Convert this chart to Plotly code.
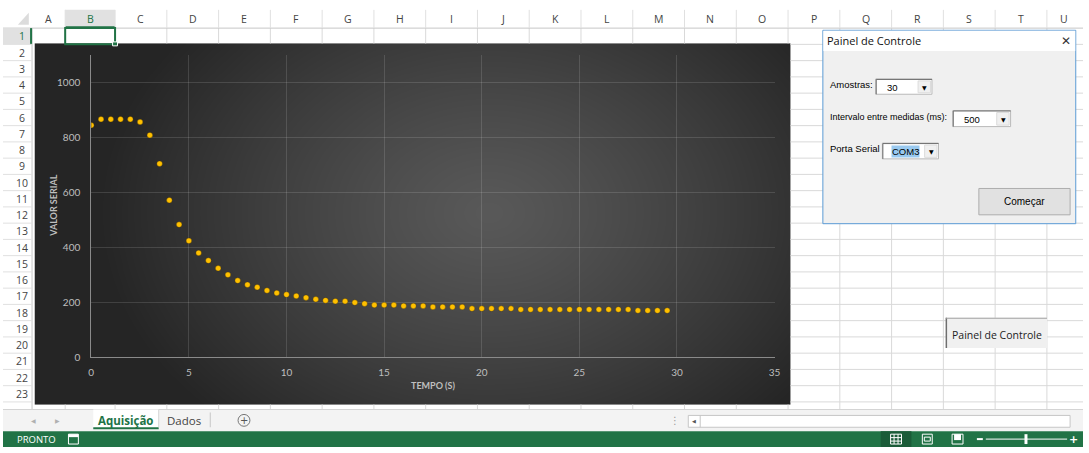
import base64
import struct
import zlib

import numpy as np
import plotly.graph_objects as go

# ---------------------------------------------------------------- data
tempo_s = [0, 0.5, 1, 1.5, 2, 2.5, 3, 3.5, 4, 4.5,
           5, 5.5, 6, 6.5, 7, 7.5, 8, 8.5, 9, 9.5,
           10, 10.5, 11, 11.5, 12, 12.5, 13, 13.5, 14, 14.5,
           15, 15.5, 16, 16.5, 17, 17.5, 18, 18.5, 19, 19.5,
           20, 20.5, 21, 21.5, 22, 22.5, 23, 23.5, 24, 24.5,
           25, 25.5, 26, 26.5, 27, 27.5, 28, 28.5, 29, 29.5]
valor_serial = [845, 867, 867, 867, 867, 857, 809, 705, 572, 483,
                424, 380, 352, 324, 300, 279, 264, 255, 243, 234,
                228, 223, 217, 211, 207, 204, 204, 199, 195, 190,
                190, 190, 187, 187, 187, 183, 183, 183, 183, 177,
                177, 177, 177, 177, 174, 174, 174, 174, 174, 174,
                174, 174, 174, 174, 174, 174, 170, 170, 170, 170]

x_ticks = [0, 5, 10, 15, 20, 25, 30, 35]
y_ticks = [0, 200, 400, 600, 800, 1000]

col_letters = ["A", "B", "C", "D", "E", "F", "G", "H", "I", "J", "K",
               "L", "M", "N", "O", "P", "Q", "R", "S", "T", "U"]
row_numbers = list(range(1, 24))

# ---------------------------------------------------------------- page geometry (pixels)
W, H = 1089, 453


def X(px):
    return px / W


def Y(py):
    return 1 - py / H


EXCEL_GREEN = "#217346"
GRID = "#d9d9d9"
UI_FONT = "Open Sans"
CHART_FONT = "Lato"
FORM_FONT = "Liberation Sans"

col_edges = [29.3, 62.7, 113.0]
while len(col_edges) < 22:
    col_edges.append(col_edges[-1] + 52.2)
row_top0, row_h = 28.5, 16.47
row_edges = [row_top0 + row_h * k for k in range(25)]

CH_X0, CH_X1, CH_Y0, CH_Y1 = 32, 794, 44, 410     # chart area
TAB_Y0, STATUS_Y0 = 415, 437

shapes = []
annotations = []


def rect(x0, y0, x1, y1, fill=None, line=None, lw=1, layer="below"):
    shapes.append(dict(type="rect", xref="paper", yref="paper",
                       x0=X(x0), x1=X(x1), y0=Y(y1), y1=Y(y0),
                       fillcolor=fill or "rgba(0,0,0,0)",
                       line=dict(color=line or "rgba(0,0,0,0)", width=lw if line else 0),
                       layer=layer))


def seg(x0, y0, x1, y1, color, lw=1, layer="below"):
    shapes.append(dict(type="line", xref="paper", yref="paper",
                       x0=X(x0), x1=X(x1), y0=Y(y0), y1=Y(y1),
                       line=dict(color=color, width=lw), layer=layer))


def text(x, y, s, size=11, color="#444444", font=UI_FONT, xanchor="center",
         yanchor="middle", bgcolor=None, angle=0):
    a = dict(xref="paper", yref="paper", x=X(x), y=Y(y), text=s, showarrow=False,
             xanchor=xanchor, yanchor=yanchor, textangle=angle,
             font=dict(family=font, size=size, color=color), borderpad=0)
    if bgcolor:
        a["bgcolor"] = bgcolor
    annotations.append(a)


# ---------------------------------------------------------------- worksheet grid
# horizontal row lines (kept outside the chart object)
for k in range(1, 24):
    y = row_edges[k]
    if y <= TAB_Y0:
        if CH_Y0 < y < CH_Y1:
            seg(CH_X1, y, W, y, GRID)
        else:
            seg(col_edges[0], y, W, y, GRID)
# vertical column lines
for x in col_edges[1:]:
    if CH_X0 < x < CH_X1:
        seg(x, row_top0, x, CH_Y0, GRID)
        seg(x, CH_Y1, x, TAB_Y0, GRID)
    else:
        seg(x, row_top0, x, TAB_Y0, GRID)

# column headers
seg(0, row_top0, W, row_top0, "#c6c6c6")
rect(col_edges[1], 10, col_edges[2], row_top0, fill="#e1e1e1")
seg(col_edges[1], row_top0 - 1, col_edges[2], row_top0 - 1, EXCEL_GREEN, lw=2)
for i, letter in enumerate(col_letters):
    x0 = col_edges[i]
    x1 = col_edges[i + 1] if i + 1 < len(col_edges) else W
    if i > 0:
        seg(x0, 10, x0, row_top0, "#e0e0e0")
    text((x0 + x1) / 2 if i < 20 else 1070, 19, letter, size=10.5,
         color=EXCEL_GREEN if letter == "B" else "#444444")
# corner triangle
shapes.append(dict(type="path", xref="paper", yref="paper",
                   path=f"M {X(26)},{Y(13)} L {X(26)},{Y(25)} L {X(15)},{Y(25)} Z",
                   fillcolor="#dcdcdc", line=dict(width=0), layer="below"))

# row headers
seg(col_edges[0], row_top0, col_edges[0], TAB_Y0, "#c6c6c6")
rect(0, row_edges[0], col_edges[0] - 1, row_edges[1], fill="#e1e1e1")
seg(col_edges[0] - 1, row_edges[0], col_edges[0] - 1, row_edges[1], EXCEL_GREEN, lw=2)
for k in row_numbers:
    yc = (row_edges[k - 1] + row_edges[k]) / 2
    seg(0, row_edges[k], col_edges[0], row_edges[k], "#e0e0e0")
    text(19, yc, str(k), size=10.5, color=EXCEL_GREEN if k == 1 else "#444444")

# selected cell B1
rect(col_edges[1], row_edges[0], col_edges[2], row_edges[1], line=EXCEL_GREEN, lw=2)
rect(col_edges[2] - 2.5, row_edges[1] - 2.5, col_edges[2] + 2.5, row_edges[1] + 1.5,
     fill=EXCEL_GREEN, line="#ffffff", lw=1)

# ---------------------------------------------------------------- sheet tabs and status bar
rect(0, TAB_Y0, W, STATUS_Y0, fill="#f3f3f3")
seg(0, TAB_Y0, W, TAB_Y0, "#d4d4d4")
rect(91, TAB_Y0, 157, STATUS_Y0 - 2, fill="#ffffff")
seg(91, 434, 157, 434, EXCEL_GREEN, lw=2)
seg(157, TAB_Y0, 157, 433, "#d4d4d4")
seg(209, 418, 209, 433, "#c8c8c8")
text(31, 426, "◀", size=6, color="#b0b0b0", font="DejaVu Sans")
text(55, 426, "▶", size=6, color="#b0b0b0", font="DejaVu Sans")
text(124, 426, "<b>Aquisição</b>", size=11.5, color=EXCEL_GREEN)
text(183, 426, "Dados", size=11.5, color="#444444")
shapes.append(dict(type="circle", xref="paper", yref="paper",
                   x0=X(237), x1=X(249), y0=Y(432), y1=Y(420),
                   line=dict(color="#777777", width=1), layer="below"))
text(243, 426, "+", size=10, color="#555555", font="DejaVu Sans")
text(678, 426, "⋮", size=10, color="#9a9a9a", font="DejaVu Sans")
rect(691, 421, 1076, 433, fill="#ffffff", line="#c6c6c6")
seg(703, 421, 703, 433, "#c6c6c6")
text(697, 427, "◀", size=5, color="#555555", font="DejaVu Sans")

rect(0, STATUS_Y0, W, H, fill=EXCEL_GREEN)
text(13, 445.5, "PRONTO", size=9.5, color="#ffffff", xanchor="left")
rect(66, 440, 76, 450, line="#ffffff", lw=1)
rect(66, 440, 76, 443, fill="#ffffff")
rect(885, STATUS_Y0, 916, H, fill="#1a5c38")
rect(895, 440, 906, 450, line="#ffffff", lw=1)
seg(895, 443.5, 906, 443.5, "#ffffff")
seg(895, 447, 906, 447, "#ffffff")
seg(898.5, 440, 898.5, 450, "#ffffff")
seg(902.5, 440, 902.5, 450, "#ffffff")
rect(927, 440, 937, 450, line="#ffffff", lw=1)
rect(929, 443, 935, 447, line="#ffffff", lw=1)
rect(957, 440, 968, 450, line="#ffffff", lw=1)
rect(959, 440, 966, 446, fill="#ffffff")
seg(982, 445, 988, 445, "#ffffff", lw=2)
seg(991, 445, 1073, 445, "#ffffff")
rect(1030, 440, 1033, 450, fill="#ffffff")
text(1079, 445, "<b>+</b>", size=11, color="#ffffff", font="DejaVu Sans")

# ---------------------------------------------------------------- "Painel de Controle" sheet button
rect(950.7, 322, 1052.7, 352.7, fill="#f0f0f0")
seg(951.2, 322, 951.2, 352.7, "#6f6f6f", lw=1.5)
seg(950.7, 322.5, 1052.7, 322.5, "#a0a0a0")
text(1002.5, 339, "Painel de Controle", size=10.5, color="#222222")

# ---------------------------------------------------------------- user form
rect(826.7, 30.7, 1081.7, 226.7, fill="#f0f0f0", line="#5b9bd5", lw=1, layer="above")
rect(827.2, 31.2, 1081.2, 51.7, fill="#ffffff", layer="above")
text(830, 41.5, "Painel de Controle", size=11, color="#111111", xanchor="left")
text(1072, 41.5, "✕", size=12, color="#333333", font="DejaVu Sans")


def combo(x0, y0, x1, y1, value, highlight=False):
    rect(x0, y0, x1, y1, fill="#ffffff", line="#b9b9b9", lw=1, layer="above")
    seg(x0 + 0.5, y0 + 0.5, x1, y0 + 0.5, "#6e6e6e", layer="above")
    seg(x0 + 0.5, y0 + 0.5, x0 + 0.5, y1, "#6e6e6e", layer="above")
    rect(x1 - 14, y0 + 2, x1 - 1.5, y1 - 1.5, fill="#f0f0f0", line="#dcdcdc", lw=1, layer="above")
    text(x1 - 7.5, (y0 + y1) / 2 + 0.5, "▼", size=6, color="#000000", font="DejaVu Sans")
    if highlight:
        text(x0 + 9, (y0 + y1) / 2 + 1, value, size=9.5, color="#000000",
             font=FORM_FONT, xanchor="left", bgcolor="#99c9ef")
    else:
        text(x0 + 10, (y0 + y1) / 2 + 1, value, size=9.5, color="#000000",
             font=FORM_FONT, xanchor="left")


text(833, 86, "Amostras:", size=9.5, color="#000000", font=FORM_FONT, xanchor="left")
combo(880, 80, 936.7, 95.5, "30")
text(833, 118.5, "Intervalo entre medidas (ms):", size=9, color="#000000",
     font=FORM_FONT, xanchor="left")
combo(957.7, 112, 1016, 128.3, "500")
text(833, 151, "Porta Serial", size=9.5, color="#000000", font=FORM_FONT, xanchor="left")
combo(886.7, 145, 943.3, 161, "COM3", highlight=True)
rect(984, 191, 1076, 217.7, fill="#e1e1e1", line="#adadad", lw=1, layer="above")
text(1030, 204.5, "Começar", size=10, color="#000000", font=FORM_FONT)

# ---------------------------------------------------------------- chart area fill (radial shading)
gw, gh = CH_X1 - CH_X0, CH_Y1 - CH_Y0
gx = np.arange(gw)[None, :] + CH_X0
gy = np.arange(gh)[:, None] + CH_Y0
d = np.sqrt(((gx - 490) / 345.0) ** 2 + ((gy - 215) / 255.0) ** 2)
t = np.clip(d / 1.15, 0, 1) ** 1.2
c_in, c_out = 89.0, 37.0
level = (c_in + (c_out - c_in) * t).astype(np.uint8)
rgb = np.repeat(level[:, :, None], 3, axis=2)
raw = b"".join(b"\x00" + rgb[r].tobytes() for r in range(gh))


def _chunk(tag, data):
    return (struct.pack(">I", len(data)) + tag + data
            + struct.pack(">I", zlib.crc32(tag + data) & 0xFFFFFFFF))


png = (b"\x89PNG\r\n\x1a\n"
       + _chunk(b"IHDR", struct.pack(">IIBBBBB", gw, gh, 8, 2, 0, 0, 0))
       + _chunk(b"IDAT", zlib.compress(raw, 9))
       + _chunk(b"IEND", b""))
chart_bg = "data:image/png;base64," + base64.b64encode(png).decode("ascii")

# ---------------------------------------------------------------- chart
fig = go.Figure()
fig.add_trace(go.Scatter(
    x=tempo_s, y=valor_serial, mode="markers",
    marker=dict(color="#ffc000", size=5.5, line=dict(color="rgba(70,50,0,0.55)", width=0.6)),
    showlegend=False, hoverinfo="x+y",
))

axis_common = dict(showgrid=True, gridcolor="rgba(255,255,255,0.13)", gridwidth=1,
                   zeroline=False, showline=True, linecolor="#8a8a8a", linewidth=1,
                   ticks="", tickfont=dict(family=CHART_FONT, size=10, color="#bfbfbf"),
                   fixedrange=True)
fig.update_xaxes(domain=[X(89), X(778)], range=[0, 35], tickvals=x_ticks,
                 ticklabelstandoff=6, **axis_common)
fig.update_yaxes(domain=[Y(362), Y(56)], range=[0, 1100], tickvals=y_ticks,
                 ticklabelstandoff=8, **axis_common)

text(51, 209, "<b>VALOR SERIAL</b>", size=9, color="#bfbfbf", font=CHART_FONT, angle=-90)
text(434, 391, "<b>TEMPO (S)</b>", size=9, color="#bfbfbf", font=CHART_FONT)

fig.update_layout(
    width=W, height=H, autosize=False,
    margin=dict(l=0, r=0, t=0, b=0, pad=0),
    paper_bgcolor="#ffffff", plot_bgcolor="rgba(0,0,0,0)",
    shapes=shapes, annotations=annotations,
    images=[dict(source=chart_bg, xref="paper", yref="paper",
                 x=X(CH_X0), y=Y(CH_Y0), sizex=gw / W, sizey=gh / H,
                 xanchor="left", yanchor="top", sizing="stretch", layer="below")],
    showlegend=False,
)

fig.write_html("out.html", config=dict(displayModeBar=False))
